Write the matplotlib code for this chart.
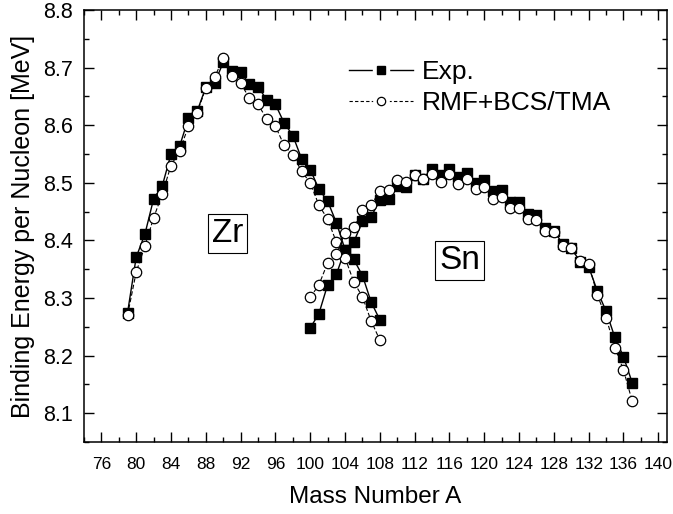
import matplotlib
matplotlib.use("Agg")
import matplotlib.pyplot as plt
from matplotlib.lines import Line2D
from matplotlib.ticker import MultipleLocator, FormatStrFormatter

plt.rcParams['font.family'] = ['Liberation Sans', 'DejaVu Sans']

# Zr isotopes
zr_A = list(range(79, 109))
zr_exp = [8.274, 8.371, 8.411, 8.472, 8.495, 8.550, 8.564, 8.612, 8.624, 8.666,
          8.673, 8.709, 8.694, 8.692, 8.672, 8.667, 8.644, 8.636, 8.604, 8.582,
          8.542, 8.523, 8.489, 8.468, 8.431, 8.384, 8.367, 8.339, 8.293, 8.262]
zr_rmf = [8.270, 8.345, 8.390, 8.439, 8.481, 8.530, 8.556, 8.598, 8.622, 8.664,
          8.683, 8.716, 8.685, 8.673, 8.647, 8.636, 8.611, 8.598, 8.565, 8.549,
          8.520, 8.500, 8.461, 8.437, 8.397, 8.370, 8.328, 8.302, 8.260, 8.227]

# Sn isotopes
sn_A = list(range(100, 138))
sn_exp = [8.248, 8.273, 8.323, 8.341, 8.384, 8.397, 8.433, 8.441, 8.470, 8.472,
          8.495, 8.493, 8.514, 8.507, 8.524, 8.514, 8.524, 8.510, 8.517, 8.499,
          8.505, 8.485, 8.488, 8.467, 8.467, 8.446, 8.444, 8.421, 8.417, 8.394,
          8.387, 8.363, 8.354, 8.312, 8.277, 8.232, 8.198, 8.153]
sn_rmf = [8.301, 8.323, 8.361, 8.376, 8.413, 8.423, 8.453, 8.462, 8.485, 8.487,
          8.504, 8.501, 8.514, 8.507, 8.515, 8.502, 8.515, 8.498, 8.507, 8.490,
          8.493, 8.472, 8.475, 8.456, 8.456, 8.438, 8.436, 8.416, 8.414, 8.390,
          8.386, 8.364, 8.359, 8.305, 8.266, 8.214, 8.175, 8.121]

fig = plt.figure(figsize=(6.73, 5.14), dpi=100)
ax = fig.add_axes([84 / 673, 1 - 442 / 514, 583 / 673, 432 / 514])

exp_style = dict(color='black', lw=1.0, marker='s', ms=6.5, mfc='black', mec='black')
rmf_style = dict(color='black', lw=0.8, ls=(0, (4, 2)), marker='o', ms=7.5,
                 mfc='white', mec='black', mew=0.9)

ax.plot(zr_A, zr_exp, **exp_style)
ax.plot(sn_A, sn_exp, **exp_style)
ax.plot(zr_A, zr_rmf, **rmf_style)
ax.plot(sn_A, sn_rmf, **rmf_style)

ax.text(90.5, 8.412, 'Zr', fontsize=24, ha='center', va='center',
        bbox=dict(boxstyle='square,pad=0.12', fc='white', ec='black', lw=0.8))
ax.text(117.2, 8.365, 'Sn', fontsize=24, ha='center', va='center',
        bbox=dict(boxstyle='square,pad=0.12', fc='white', ec='black', lw=0.8))

ax.set_xlim(74, 141)
ax.set_ylim(8.05, 8.8)
ax.set_xticks(range(76, 141, 4))
ax.xaxis.set_minor_locator(MultipleLocator(2))
ax.yaxis.set_major_locator(MultipleLocator(0.1))
ax.yaxis.set_minor_locator(MultipleLocator(0.05))
ax.yaxis.set_major_formatter(FormatStrFormatter('%.1f'))

ax.tick_params(which='both', direction='in', top=True, right=True, width=1.0)
ax.tick_params(which='major', length=7)
ax.tick_params(which='minor', length=3.5)
ax.tick_params(axis='x', which='major', labelsize=12.5, pad=11)
ax.tick_params(axis='y', which='major', labelsize=15.5, pad=8)
for lab in ax.get_xticklabels():
    lab.set_family(['Liberation Sans Narrow', 'Liberation Sans'])
for sp in ax.spines.values():
    sp.set_linewidth(1.1)

ax.set_xlabel('Mass Number A', fontsize=17.5, labelpad=10)
ax.set_ylabel('Binding Energy per Nucleon [MeV]', fontsize=18, labelpad=6)

# legend handles: white halo around marker gives the gap in the line
h_exp = (Line2D([], [], color='black', lw=1.0, marker='s', ms=11, mfc='white', mec='white'),
         Line2D([], [], ls='none', marker='s', ms=6, mfc='black', mec='black'))
h_rmf = (Line2D([], [], color='black', lw=0.8, ls=(0, (3, 2)), marker='o', ms=11,
                mfc='white', mec='white'),
         Line2D([], [], ls='none', marker='o', ms=6, mfc='white', mec='black', mew=0.9))
ax.legend([h_exp, h_rmf], ['Exp.', 'RMF+BCS/TMA'], loc='center left',
          bbox_to_anchor=(0.455, 0.82), frameon=False, fontsize=19,
          handlelength=2.4, handletextpad=0.35, labelspacing=0.25,
          borderpad=0, borderaxespad=0)

fig.savefig('out.png', dpi=100)
